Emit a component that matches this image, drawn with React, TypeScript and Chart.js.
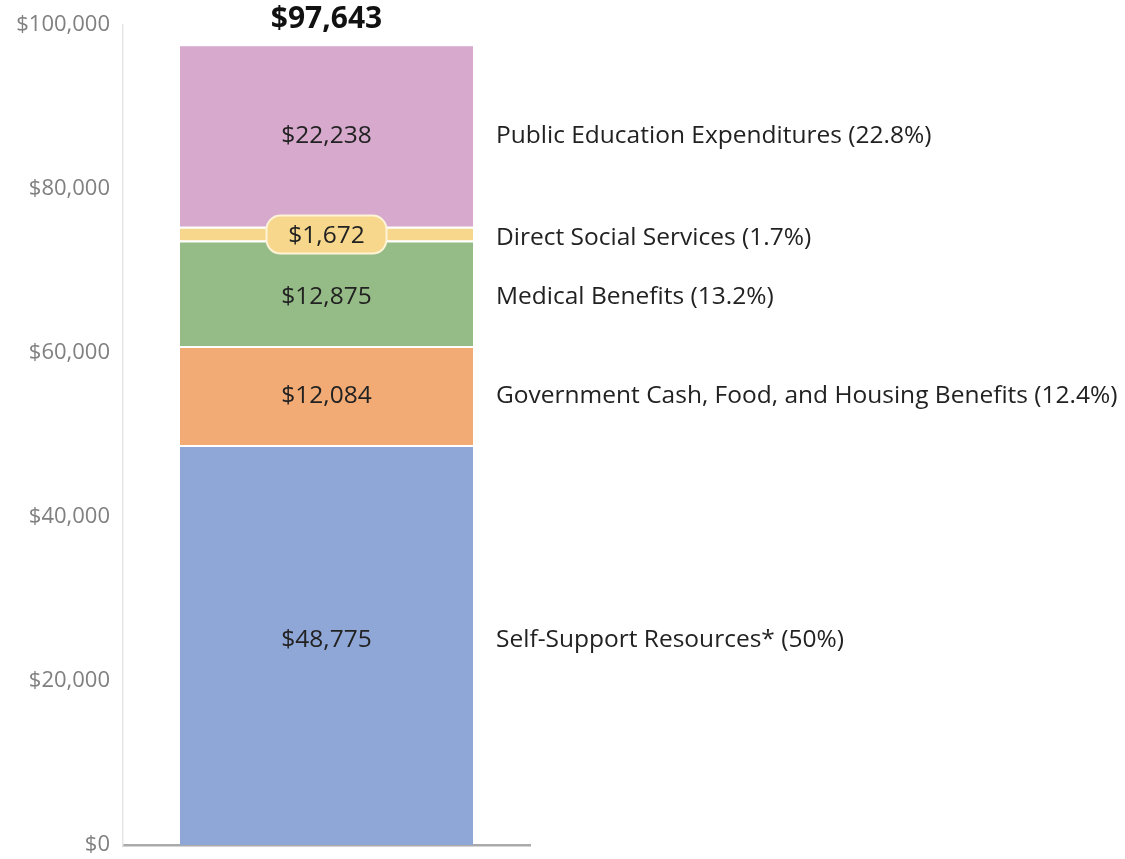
import React, { useEffect, useRef } from "react";
import { Chart, registerables } from "chart.js";

Chart.register(...registerables);

const categories = ["Total"];
const seriesNames = [
  "Self-Support Resources* (50%)",
  "Government Cash, Food, and Housing Benefits (12.4%)",
  "Medical Benefits (13.2%)",
  "Direct Social Services (1.7%)",
  "Public Education Expenditures (22.8%)",
];
const seriesValues = [48775, 12084, 12875, 1672, 22238];
const seriesColors = ["#8fa7d6", "#f2ab75", "#95bb86", "#f6d78c", "#d6a9cd"];
const totalValue = 97643;
const yTicks = [0, 20000, 40000, 60000, 80000, 100000];

const FONT = "'Open Sans', 'Noto Sans', sans-serif";
const fmt = (v: number) => "$" + v.toLocaleString("en-US");

const labelPlugin = {
  id: "labels",
  afterDraw(chart: any) {
    const ctx = chart.ctx;
    ctx.save();
    let topY = 0;
    let cx = 0;
    seriesValues.forEach((v, i) => {
      const el = chart.getDatasetMeta(i).data[0];
      const mid = (el.y + el.base) / 2;
      cx = el.x;
      topY = el.y;
      const right = el.x + el.width / 2;
      const dy = i === 3 ? 4 : i === 2 ? 4 : i === 0 ? -5 : 1;
      if (i === 3) {
        const w = 120,
          h = 38;
        ctx.beginPath();
        ctx.roundRect(el.x - w / 2, mid + 1 - h / 2, w, h, 14);
        ctx.fillStyle = seriesColors[i];
        ctx.fill();
        ctx.lineWidth = 2;
        ctx.strokeStyle = "#fff4d8";
        ctx.stroke();
      }
      ctx.fillStyle = "#222";
      ctx.font = `24.5px ${FONT}`;
      ctx.textAlign = "center";
      ctx.textBaseline = "middle";
      ctx.fillText(fmt(v), el.x, mid + (i === 3 ? 2 : dy));
      ctx.textAlign = "left";
      ctx.fillText(seriesNames[i], right + 23, mid + dy);
    });
    ctx.font = `bold 30px ${FONT}`;
    ctx.fillStyle = "#111";
    ctx.textAlign = "center";
    ctx.textBaseline = "middle";
    ctx.fillText(fmt(totalValue), cx, topY - 25);
    ctx.restore();
  },
};

export default function App() {
  const ref = useRef<HTMLCanvasElement>(null);
  useEffect(() => {
    if (!ref.current) return;
    const chart = new Chart(ref.current, {
      type: "bar",
      data: {
        labels: categories,
        datasets: seriesValues.map((v, i) => ({
          label: seriesNames[i],
          data: [v],
          backgroundColor: seriesColors[i],
          borderColor: "#ffffff",
          borderWidth: { top: 2, bottom: 0, left: 0, right: 0 },
          borderSkipped: false,
          barPercentage: 0.72,
          categoryPercentage: 1,
        })),
      },
      options: {
        responsive: false,
        animation: false,
        devicePixelRatio: 1,
        layout: { padding: { top: 25, bottom: 14, left: 0, right: 595 } },
        plugins: {
          legend: { display: false },
          tooltip: { enabled: false },
          title: { display: false },
        },
        scales: {
          x: {
            stacked: true,
            ticks: { display: false },
            grid: { display: false },
            border: { display: true, color: "#aaaaaa", width: 2.5 },
            afterFit: (s: any) => {
              s.height = 0;
              s.paddingTop = 0;
              s.paddingBottom = 0;
            },
          },
          y: {
            stacked: true,
            min: 0,
            max: 100000,
            afterBuildTicks: (s: any) => {
              s.ticks = yTicks.map((v) => ({ value: v }));
            },
            ticks: {
              callback: (v: any) => fmt(Number(v)),
              color: "#808080",
              font: { family: FONT, size: 22 },
              padding: 13,
            },
            grid: { display: false, drawTicks: false },
            border: { display: true, color: "#e6e6e6", width: 1.5 },
            afterFit: (s: any) => {
              s.width = 123;
              s.paddingTop = 0;
              s.paddingBottom = 0;
            },
          },
        },
      },
      plugins: [labelPlugin],
    });
    return () => chart.destroy();
  }, []);
  return (
    <div style={{ position: "fixed", left: 0, top: 0, width: 1125, height: 859, background: "#fff" }}>
      <canvas ref={ref} width={1125} height={859} />
    </div>
  );
}
